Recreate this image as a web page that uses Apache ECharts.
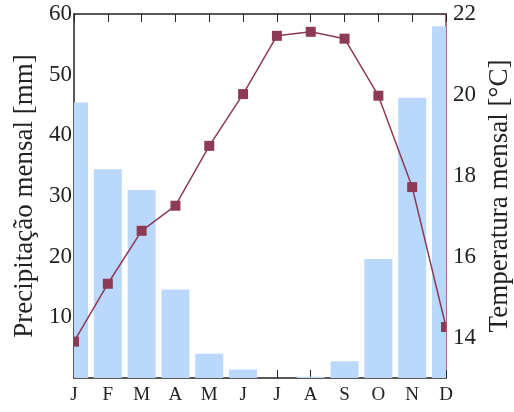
<!DOCTYPE html>
<html><head><meta charset="utf-8">
<script src="https://cdn.jsdelivr.net/npm/echarts@6/dist/echarts.min.js"></script>
<style>html,body{margin:0;padding:0;background:#fff}#c{width:514px;height:412px}</style>
</head><body><div id="c"></div>
<script>
const months = ['J','F','M','A','M','J','J','A','S','O','N','D'];
const precipitation = [45.4, 34.4, 31.0, 14.6, 4.0, 1.4, 0, 0.2, 2.75, 19.6, 46.2, 58.0];
const temperature = [13.9, 15.33, 16.64, 17.26, 18.74, 20.02, 21.46, 21.56, 21.39, 19.98, 17.72, 14.26];
const precipTicks = [10, 20, 30, 40, 50, 60];
const tempTicks = [14, 16, 18, 20, 22];

const font = '"Liberation Serif", "Times New Roman", serif';
const maroon = '#8c3a56';
const barColor = '#bad8fb';
const chart = echarts.init(document.getElementById('c'), null, {renderer:'canvas'});

function areaOf(params) {
  const c = params.coordSys;
  return {x: c.x, y: c.y, width: c.width, height: c.height};
}
function renderBar(params, api) {
  const i = api.value(0), v = api.value(1);
  const top = api.coord([i, v]);
  const bot = api.coord([i, 0]);
  const w = 28;
  const r = echarts.graphic.clipRectByRect(
    {x: top[0] - w / 2, y: top[1], width: w, height: bot[1] - top[1]}, areaOf(params));
  if (!r) return null;
  return {type: 'rect', shape: r, style: {fill: barColor}};
}
function renderMarker(params, api) {
  const p = api.coord([api.value(0), api.value(1)]);
  const s = 10;
  const r = echarts.graphic.clipRectByRect(
    {x: p[0] - s / 2, y: p[1] - s / 2, width: s, height: s}, areaOf(params));
  if (!r) return null;
  return {type: 'rect', shape: r, style: {fill: maroon}};
}

chart.setOption({
  animation: false,
  grid: {left: 74, right: 68, top: 14, bottom: 34, outerBoundsMode: 'none', containLabel: false},
  xAxis: [{
    type: 'category', data: months, boundaryGap: false,
    axisLine: {lineStyle: {color: '#222', width: 1.5}},
    axisTick: {inside: true, length: 8, alignWithLabel: true, lineStyle: {color: '#222'}},
    axisLabel: {color: '#222', fontFamily: font, fontSize: 19, margin: 8}
  }, {
    type: 'category', data: months, boundaryGap: false, position: 'top',
    axisLine: {lineStyle: {color: '#222', width: 1.5}},
    axisTick: {inside: true, length: 8, lineStyle: {color: '#222'}},
    axisLabel: {show: false}
  }],
  yAxis: [{
    type: 'value', min: 0, max: 60, interval: 10, position: 'left',
    name: 'Precipitação mensal [mm]', nameLocation: 'middle', nameGap: 36,
    nameTextStyle: {color: '#222', fontFamily: font, fontSize: 27},
    axisLine: {show: true, lineStyle: {color: '#222', width: 1.5}},
    axisTick: {show: false},
    splitLine: {show: false},
    axisLabel: {color: '#222', fontFamily: font, fontSize: 23, margin: 2,
      customValues: precipTicks}
  }, {
    type: 'value', min: 13, max: 22, position: 'right',
    name: 'Temperatura mensal [°C]', nameLocation: 'middle', nameGap: 38,
    nameRotate: 90,
    nameTextStyle: {color: '#222', fontFamily: font, fontSize: 27},
    axisLine: {show: true, lineStyle: {color: maroon, width: 1.5}},
    axisTick: {show: true, inside: true, length: 7, customValues: tempTicks, lineStyle: {color: maroon}},
    splitLine: {show: false},
    axisLabel: {color: '#222', fontFamily: font, fontSize: 23, margin: 7,
      customValues: tempTicks}
  }],
  series: [{
    type: 'custom', xAxisIndex: 0, yAxisIndex: 0, z: 2,
    data: precipitation.map((v, i) => [i, v]),
    encode: {x: 0, y: 1},
    renderItem: renderBar
  }, {
    type: 'line', data: temperature, xAxisIndex: 0, yAxisIndex: 1, z: 3,
    symbol: 'none', clip: true,
    lineStyle: {color: maroon, width: 1.5}
  }, {
    type: 'custom', xAxisIndex: 0, yAxisIndex: 1, z: 4,
    data: temperature.map((v, i) => [i, v]),
    encode: {x: 0, y: 1},
    renderItem: renderMarker
  }]
});
</script></body></html>
